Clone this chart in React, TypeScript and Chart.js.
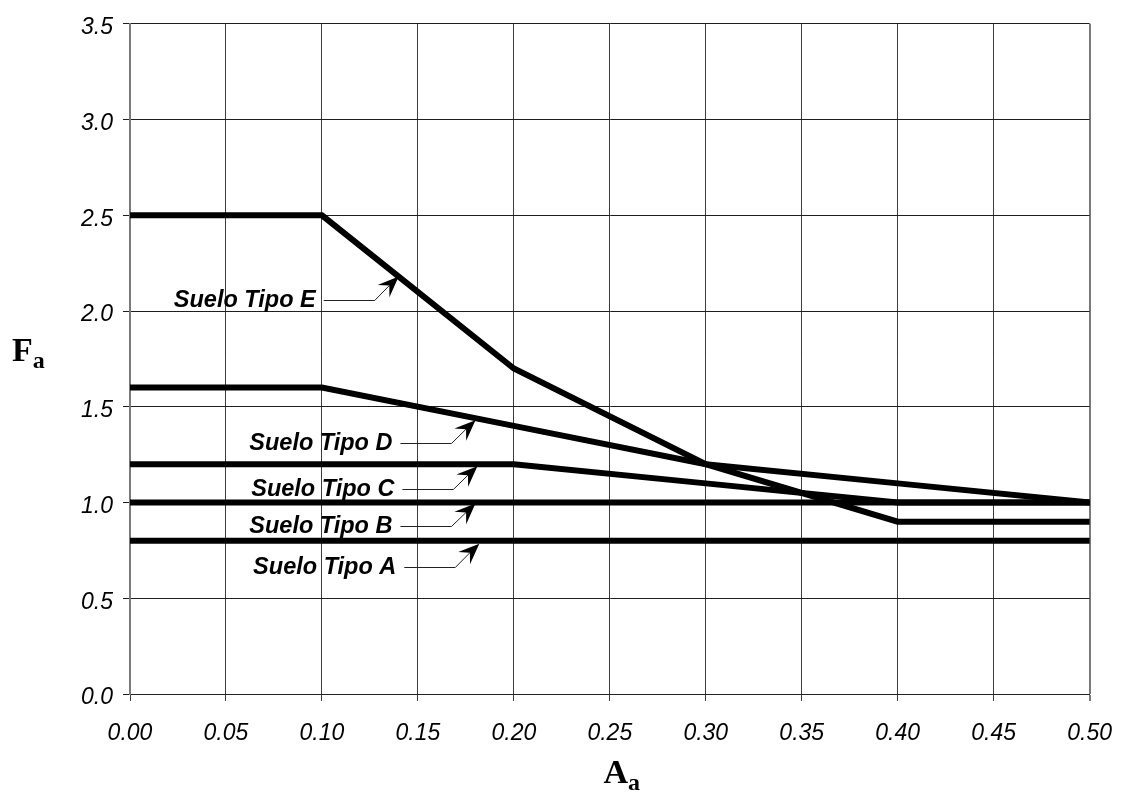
import React, { useEffect, useRef } from "react";
import { Chart, registerables } from "chart.js";

Chart.register(...registerables);

// ---- data ----
const AA_VALUES = [0, 0.1, 0.2, 0.3, 0.4, 0.5];
const FA_TIPO_E = [2.5, 2.5, 1.7, 1.2, 0.9, 0.9];
const FA_TIPO_D = [1.6, 1.6, 1.4, 1.2, 1.1, 1.0];
const FA_TIPO_C = [1.2, 1.2, 1.2, 1.1, 1.0, 1.0];
const FA_TIPO_B = [1.0, 1.0, 1.0, 1.0, 1.0, 1.0];
const FA_TIPO_A = [0.8, 0.8, 0.8, 0.8, 0.8, 0.8];
const SERIES_NAMES = ["Suelo Tipo E", "Suelo Tipo D", "Suelo Tipo C", "Suelo Tipo B", "Suelo Tipo A"];

const X_TICKS = [0, 0.05, 0.1, 0.15, 0.2, 0.25, 0.3, 0.35, 0.4, 0.45, 0.5];
const X_TICK_LABELS = ["0.00", "0.05", "0.10", "0.15", "0.20", "0.25", "0.30", "0.35", "0.40", "0.45", "0.50"];
const Y_TICKS = [0, 0.5, 1.0, 1.5, 2.0, 2.5, 3.0, 3.5];
const Y_TICK_LABELS = ["0.0", "0.5", "1.0", "1.5", "2.0", "2.5", "3.0", "3.5"];

// callout arrows: where each arrow tip touches its curve (data coords)
const CALLOUT_TEXTS = ["Suelo Tipo E", "Suelo Tipo D", "Suelo Tipo C", "Suelo Tipo B", "Suelo Tipo A"];
const CALLOUT_TIP_X = [0.14, 0.18, 0.181, 0.18, 0.182];
const CALLOUT_TIP_Y = [2.18, 1.43, 1.19, 0.995, 0.785];

const X_TITLE_MAIN = "A";
const X_TITLE_SUB = "a";
const Y_TITLE_MAIN = "F";
const Y_TITLE_SUB = "a";

const SANS = '"Liberation Sans", Arial, sans-serif';
const SERIF = '"Liberation Serif", "Times New Roman", serif';

const calloutPlugin = {
  id: "callouts",
  afterDatasetsDraw(chart: any) {
    const ctx = chart.ctx;
    const xs = chart.scales.x;
    const ys = chart.scales.y;
    ctx.save();
    for (let i = 0; i < CALLOUT_TEXTS.length; i++) {
      const tx = xs.getPixelForValue(CALLOUT_TIP_X[i]);
      const ty = ys.getPixelForValue(CALLOUT_TIP_Y[i]);
      const bendX = tx - 24;
      const bendY = ty + 23;
      const startX = bendX - 51;
      const ang = Math.atan2(ty - bendY, tx - bendX);
      const L = 21;
      const W = 8.5;
      const N = 13;
      const c = Math.cos(ang);
      const s = Math.sin(ang);
      const pt = (dx: number, dy: number) => [tx + dx * c - dy * s, ty + dx * s + dy * c];
      const notch = pt(-N, 0);
      ctx.strokeStyle = "#222";
      ctx.lineWidth = 1;
      ctx.beginPath();
      ctx.moveTo(startX, Math.round(bendY) + 0.5);
      ctx.lineTo(bendX, Math.round(bendY) + 0.5);
      ctx.lineTo(notch[0], notch[1]);
      ctx.stroke();
      const b1 = pt(-L, -W);
      const b2 = pt(-L, W);
      ctx.fillStyle = "#000";
      ctx.beginPath();
      ctx.moveTo(tx, ty);
      ctx.lineTo(b1[0], b1[1]);
      ctx.lineTo(notch[0], notch[1]);
      ctx.lineTo(b2[0], b2[1]);
      ctx.closePath();
      ctx.fill();
      ctx.font = `italic bold 23.5px ${SANS}`;
      ctx.textAlign = "right";
      ctx.textBaseline = "alphabetic";
      ctx.fillStyle = "#000";
      ctx.fillText(CALLOUT_TEXTS[i], startX - 8, bendY + 7);
    }
    ctx.restore();
  },
};

const titlePlugin = {
  id: "axisTitles",
  afterDraw(chart: any) {
    const ctx = chart.ctx;
    const a = chart.chartArea;
    ctx.save();
    ctx.fillStyle = "#000";
    ctx.textAlign = "left";
    ctx.textBaseline = "alphabetic";
    ctx.font = `bold 34px ${SERIF}`;
    const fx = a.left - 118;
    const fy = (a.top + a.bottom) / 2 + 2;
    ctx.fillText(Y_TITLE_MAIN, fx, fy);
    const fw = ctx.measureText(Y_TITLE_MAIN).width;
    ctx.font = `bold 24px ${SERIF}`;
    ctx.fillText(Y_TITLE_SUB, fx + fw, fy + 7);
    ctx.font = `bold 34px ${SERIF}`;
    const aw = ctx.measureText(X_TITLE_MAIN).width;
    ctx.font = `bold 24px ${SERIF}`;
    const sw = ctx.measureText(X_TITLE_SUB).width;
    const ax = (a.left + a.right) / 2 - (aw + sw) / 2 + 12;
    const ay = a.bottom + 89;
    ctx.font = `bold 34px ${SERIF}`;
    ctx.fillText(X_TITLE_MAIN, ax, ay);
    ctx.font = `bold 24px ${SERIF}`;
    ctx.fillText(X_TITLE_SUB, ax + aw, ay + 7);
    ctx.restore();
  },
};

export default function App() {
  const canvasRef = useRef<HTMLCanvasElement | null>(null);

  useEffect(() => {
    if (!canvasRef.current) return;
    const seriesValues = [FA_TIPO_E, FA_TIPO_D, FA_TIPO_C, FA_TIPO_B, FA_TIPO_A];
    const lastX = X_TICKS.length - 1;
    const chart = new Chart(canvasRef.current, {
      type: "line",
      data: {
        datasets: seriesValues.map((vals, k) => ({
          label: SERIES_NAMES[k],
          data: AA_VALUES.map((x, i) => ({ x, y: vals[i] })),
          borderColor: "#000",
          backgroundColor: "#000",
          borderWidth: 6,
          borderCapStyle: "round",
          borderJoinStyle: "miter",
          pointRadius: 0,
          tension: 0,
          fill: false,
        })),
      },
      options: {
        animation: false,
        responsive: true,
        maintainAspectRatio: false,
        devicePixelRatio: 1,
        layout: { padding: { left: 0, top: 17, right: 28, bottom: 0 } },
        plugins: {
          legend: { display: false },
          tooltip: { enabled: false },
          title: { display: false },
        },
        scales: {
          x: {
            type: "linear",
            min: 0,
            max: 0.5,
            afterBuildTicks: (s: any) => {
              s.ticks = X_TICKS.map((v) => ({ value: v }));
            },
            afterFit: (s: any) => {
              s.height = 101;
            },
            ticks: {
              autoSkip: false,
              maxRotation: 0,
              minRotation: 0,
              padding: 19,
              color: "#000",
              font: { family: SANS, size: 23, style: "italic" },
              callback: (v: any) => {
                const idx = X_TICKS.findIndex((t) => Math.abs(t - Number(v)) < 1e-9);
                return idx >= 0 ? X_TICK_LABELS[idx] : "";
              },
            },
            grid: {
              color: (c: any) => (c.index === lastX ? "#7a7a7a" : "#3c3c3c"),
              lineWidth: (c: any) => (c.index === lastX ? 2 : 1),
              tickLength: 7,
              drawTicks: true,
            },
            border: { display: true, color: "#222", width: 1 },
          },
          y: {
            type: "linear",
            min: 0,
            max: 3.5,
            afterBuildTicks: (s: any) => {
              s.ticks = Y_TICKS.map((v) => ({ value: v }));
            },
            afterFit: (s: any) => {
              s.width = 130;
            },
            ticks: {
              autoSkip: false,
              padding: 10,
              labelOffset: 4,
              color: "#000",
              font: { family: SANS, size: 23, style: "italic" },
              callback: (v: any) => {
                const idx = Y_TICKS.findIndex((t) => Math.abs(t - Number(v)) < 1e-9);
                return idx >= 0 ? Y_TICK_LABELS[idx] : "";
              },
            },
            grid: {
              color: "#1e1e1e",
              lineWidth: 1,
              tickLength: 7,
              drawTicks: true,
            },
            border: { display: true, color: "#7a7a7a", width: 2 },
          },
        },
      },
      plugins: [calloutPlugin, titlePlugin],
    } as any);
    return () => chart.destroy();
  }, []);

  return (
    <div style={{ position: "absolute", left: 0, top: 0, width: 1131, height: 795, background: "#fff" }}>
      <canvas ref={canvasRef} />
    </div>
  );
}
